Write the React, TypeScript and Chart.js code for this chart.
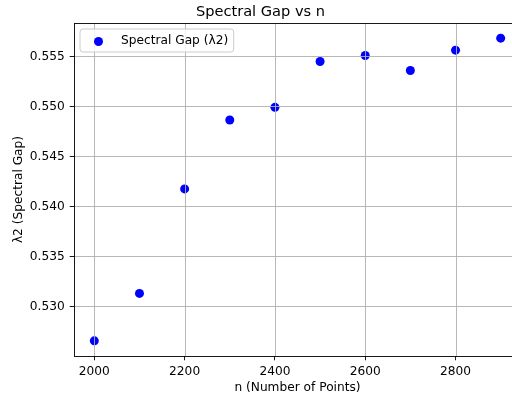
import React, { useEffect, useRef } from "react";
import { Chart, registerables } from "chart.js";

Chart.register(...registerables);

const nValues = [2000, 2100, 2200, 2300, 2400, 2500, 2600, 2700, 2800, 2900];
const spectralGap = [0.52655, 0.5313, 0.54175, 0.54864, 0.54991, 0.5545, 0.5551, 0.5536, 0.55563, 0.55683];
const xTicks = [2000, 2200, 2400, 2600, 2800];
const yTicks = [0.53, 0.535, 0.54, 0.545, 0.55, 0.555];
const seriesLabel = "Spectral Gap (λ2)";
const titleText = "Spectral Gap vs n";
const xTitle = "n (Number of Points)";
const yTitle = "λ2 (Spectral Gap)";

const FONT = "'DejaVu Sans', sans-serif";
const GRID = "#b0b0b0";
const FS = 12.2;

const overlayPlugin = {
  id: "mplOverlay",
  afterDatasetsDraw(chart: any) {
    const { ctx, chartArea, scales } = chart;
    const { left, right, top, bottom } = chartArea;
    ctx.save();
    // grid above markers (matplotlib zorder)
    ctx.strokeStyle = GRID;
    ctx.lineWidth = 0.9;
    ctx.beginPath();
    scales.x.ticks.forEach((t: any) => {
      const px = Math.round(scales.x.getPixelForValue(t.value)) + 0.5;
      ctx.moveTo(px, top);
      ctx.lineTo(px, bottom);
    });
    scales.y.ticks.forEach((t: any) => {
      const py = Math.round(scales.y.getPixelForValue(t.value)) + 0.5;
      ctx.moveTo(left, py);
      ctx.lineTo(right, py);
    });
    ctx.stroke();
    // spines
    ctx.strokeStyle = "#000";
    ctx.lineWidth = 0.9;
    ctx.strokeRect(Math.round(left) + 0.5, Math.round(top) + 0.5, Math.round(right - left), Math.round(bottom - top));
    // legend
    const ds = chart.data.datasets[0];
    ctx.font = `${FS}px ${FONT}`;
    const tw = ctx.measureText(ds.label).width;
    const bx = left + 6;
    const by = top + 6;
    const bw = 41 + tw + 5.5;
    const bh = 23;
    const r = 3;
    ctx.beginPath();
    ctx.moveTo(bx + r, by);
    ctx.lineTo(bx + bw - r, by);
    ctx.arcTo(bx + bw, by, bx + bw, by + r, r);
    ctx.lineTo(bx + bw, by + bh - r);
    ctx.arcTo(bx + bw, by + bh, bx + bw - r, by + bh, r);
    ctx.lineTo(bx + r, by + bh);
    ctx.arcTo(bx, by + bh, bx, by + bh - r, r);
    ctx.lineTo(bx, by + r);
    ctx.arcTo(bx, by, bx + r, by, r);
    ctx.closePath();
    ctx.fillStyle = "rgba(255,255,255,0.8)";
    ctx.fill();
    ctx.strokeStyle = "#cccccc";
    ctx.lineWidth = 1;
    ctx.stroke();
    ctx.fillStyle = ds.backgroundColor;
    ctx.beginPath();
    ctx.arc(bx + 18.5, by + 12.5, 4.5, 0, Math.PI * 2);
    ctx.fill();
    ctx.fillStyle = "#000";
    ctx.textBaseline = "middle";
    ctx.textAlign = "left";
    ctx.fillText(ds.label, bx + 41, by + 12);
    ctx.restore();
  },
};

export default function App() {
  const ref = useRef<HTMLCanvasElement | null>(null);
  useEffect(() => {
    if (!ref.current) return;
    const chart = new Chart(ref.current, {
      type: "scatter",
      data: {
        datasets: [
          {
            label: seriesLabel,
            data: nValues.map((n, i) => ({ x: n, y: spectralGap[i] })),
            backgroundColor: "#0000ff",
            borderWidth: 0,
            pointRadius: 4.5,
            pointHoverRadius: 4.5,
          },
        ],
      },
      options: {
        responsive: false,
        animation: false,
        events: [],
        layout: { padding: { left: 0, right: 9, top: 0, bottom: 0 } },
        plugins: {
          legend: { display: false },
          tooltip: { enabled: false },
          title: {
            display: true,
            text: titleText,
            color: "#000",
            font: { family: FONT, size: 14.6, weight: "normal", lineHeight: 1.2 },
            padding: { top: 3, bottom: 2.5 },
          },
        },
        scales: {
          x: {
            type: "linear",
            min: 1955,
            max: 2945,
            afterFit: (s: any) => {
              s.height = 41;
            },
            afterBuildTicks: (s: any) => {
              s.ticks = xTicks.map((v) => ({ value: v }));
            },
            ticks: {
              color: "#000",
              font: { family: FONT, size: FS },
              padding: 4,
              maxRotation: 0,
              callback: (v: any) => String(v),
            },
            grid: {
              drawOnChartArea: false,
              color: GRID,
              tickColor: "#000",
              tickLength: 4.3,
              tickWidth: 0.9,
            },
            border: { display: false },
            title: {
              display: true,
              text: xTitle,
              color: "#000",
              font: { family: FONT, size: FS },
              padding: { top: 2, bottom: 2.2 },
            },
          },
          y: {
            type: "linear",
            min: 0.525036,
            max: 0.558344,
            afterFit: (s: any) => {
              s.width = 74;
            },
            afterBuildTicks: (s: any) => {
              s.ticks = yTicks.map((v) => ({ value: v }));
            },
            ticks: {
              color: "#000",
              font: { family: FONT, size: FS },
              padding: 5,
              callback: (v: any) => Number(v).toFixed(3),
            },
            grid: {
              drawOnChartArea: false,
              color: GRID,
              tickColor: "#000",
              tickLength: 4.3,
              tickWidth: 0.9,
            },
            border: { display: false },
            title: {
              display: true,
              text: yTitle,
              color: "#000",
              font: { family: FONT, size: FS },
              padding: { top: 11.7, bottom: 2 },
            },
          },
        },
      },
      plugins: [overlayPlugin],
    });
    return () => chart.destroy();
  }, []);
  return (
    <div style={{ position: "fixed", left: 0, top: 0, width: 530, height: 397, background: "#fff" }}>
      <canvas ref={ref} width={530} height={397} />
    </div>
  );
}
